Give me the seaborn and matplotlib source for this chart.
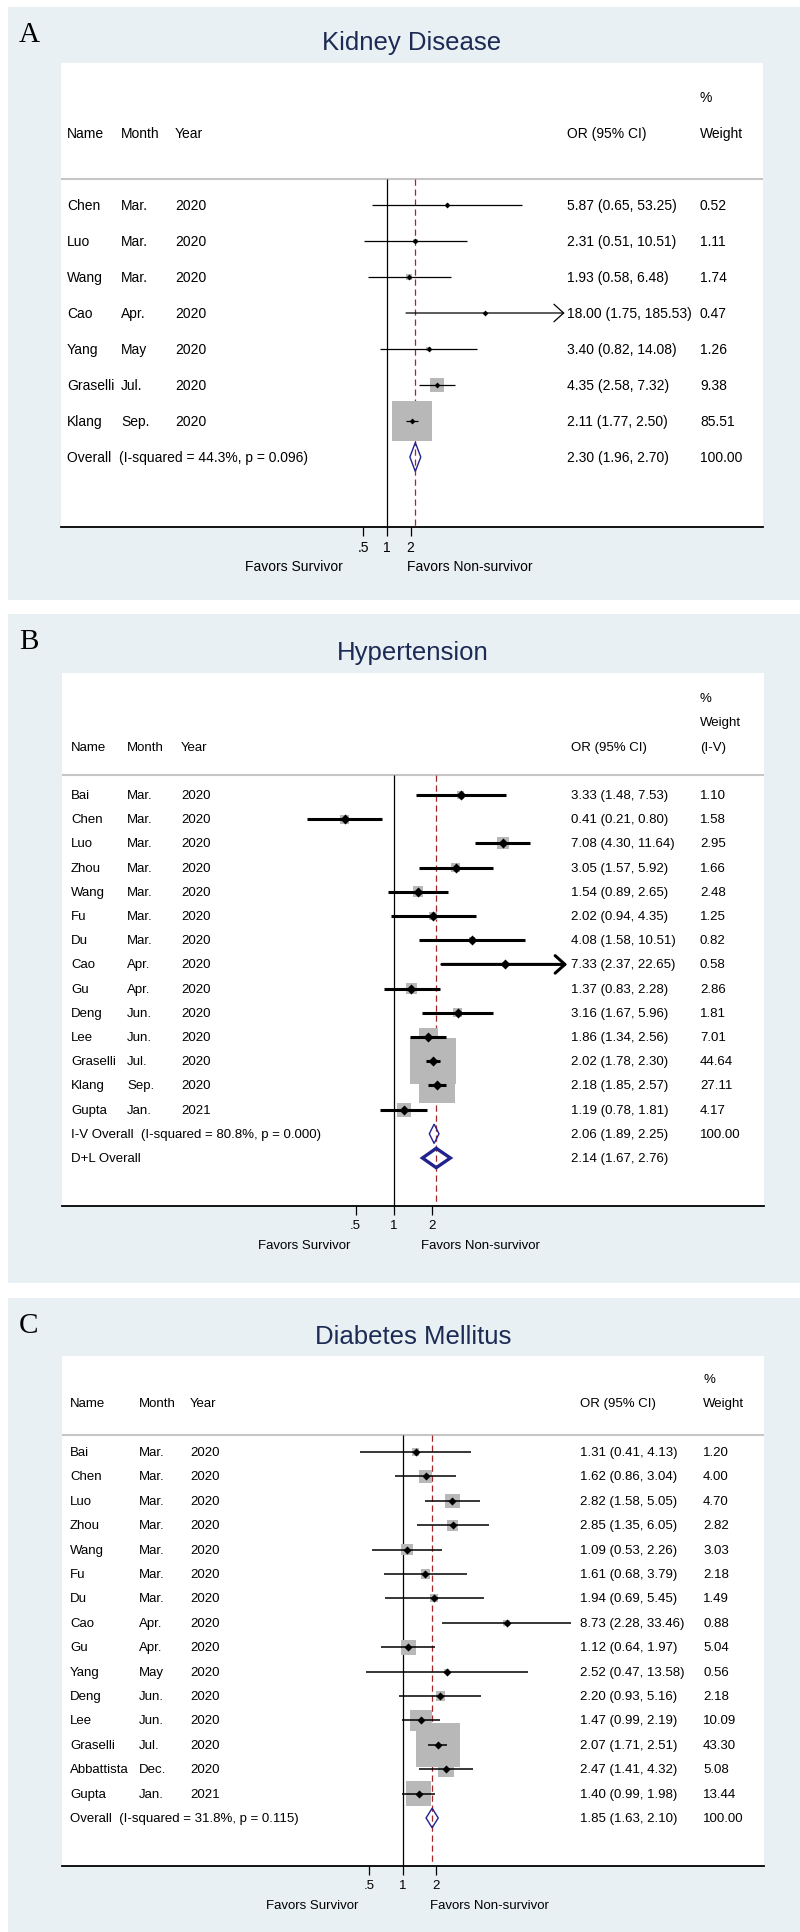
import numpy as np
import pandas as pd
import matplotlib
matplotlib.use("Agg")
import matplotlib.pyplot as plt
import seaborn as sns
from matplotlib.patches import Rectangle

sns.set_theme(style="white")
plt.rcParams["font.family"] = ["Liberation Sans Narrow", "Liberation Sans", "DejaVu Sans"]
plt.rcParams["text.color"] = "black"

# ----------------------------------------------------------
# DATA
# ----------------------------------------------------------
# A - Kidney disease
kd_name = ["Chen", "Luo", "Wang", "Cao", "Yang", "Graselli", "Klang"]
kd_month = ["Mar.", "Mar.", "Mar.", "Apr.", "May", "Jul.", "Sep."]
kd_year = [2020, 2020, 2020, 2020, 2020, 2020, 2020]
kd_or = [5.87, 2.31, 1.93, 18.00, 3.40, 4.35, 2.11]
kd_lo = [0.65, 0.51, 0.58, 1.75, 0.82, 2.58, 1.77]
kd_hi = [53.25, 10.51, 6.48, 185.53, 14.08, 7.32, 2.50]
kd_w = [0.52, 1.11, 1.74, 0.47, 1.26, 9.38, 85.51]
kd_arrow = [0, 0, 0, 1, 0, 0, 0]
kd_ov_name = ["Overall  (I-squared = 44.3%, p = 0.096)"]
kd_ov_or = [2.30]
kd_ov_lo = [1.96]
kd_ov_hi = [2.70]
kd_ov_w = [100.00]

# B - Hypertension
ht_name = ["Bai", "Chen", "Luo", "Zhou", "Wang", "Fu", "Du", "Cao", "Gu",
           "Deng", "Lee", "Graselli", "Klang", "Gupta"]
ht_month = ["Mar.", "Mar.", "Mar.", "Mar.", "Mar.", "Mar.", "Mar.", "Apr.",
            "Apr.", "Jun.", "Jun.", "Jul.", "Sep.", "Jan."]
ht_year = [2020] * 13 + [2021]
ht_or = [3.33, 0.41, 7.08, 3.05, 1.54, 2.02, 4.08, 7.33, 1.37, 3.16, 1.86, 2.02, 2.18, 1.19]
ht_lo = [1.48, 0.21, 4.30, 1.57, 0.89, 0.94, 1.58, 2.37, 0.83, 1.67, 1.34, 1.78, 1.85, 0.78]
ht_hi = [7.53, 0.80, 11.64, 5.92, 2.65, 4.35, 10.51, 22.65, 2.28, 5.96, 2.56, 2.30, 2.57, 1.81]
ht_w = [1.10, 1.58, 2.95, 1.66, 2.48, 1.25, 0.82, 0.58, 2.86, 1.81, 7.01, 44.64, 27.11, 4.17]
ht_arrow = [0, 0, 0, 0, 0, 0, 0, 1, 0, 0, 0, 0, 0, 0]
ht_ov_name = ["I-V Overall  (I-squared = 80.8%, p = 0.000)", "D+L Overall"]
ht_ov_or = [2.06, 2.14]
ht_ov_lo = [1.89, 1.67]
ht_ov_hi = [2.25, 2.76]
ht_ov_w = [100.00, None]

# C - Diabetes mellitus
dm_name = ["Bai", "Chen", "Luo", "Zhou", "Wang", "Fu", "Du", "Cao", "Gu", "Yang",
           "Deng", "Lee", "Graselli", "Abbattista", "Gupta"]
dm_month = ["Mar.", "Mar.", "Mar.", "Mar.", "Mar.", "Mar.", "Mar.", "Apr.", "Apr.",
            "May", "Jun.", "Jun.", "Jul.", "Dec.", "Jan."]
dm_year = [2020] * 14 + [2021]
dm_or = [1.31, 1.62, 2.82, 2.85, 1.09, 1.61, 1.94, 8.73, 1.12, 2.52, 2.20, 1.47, 2.07, 2.47, 1.40]
dm_lo = [0.41, 0.86, 1.58, 1.35, 0.53, 0.68, 0.69, 2.28, 0.64, 0.47, 0.93, 0.99, 1.71, 1.41, 0.99]
dm_hi = [4.13, 3.04, 5.05, 6.05, 2.26, 3.79, 5.45, 33.46, 1.97, 13.58, 5.16, 2.19, 2.51, 4.32, 1.98]
dm_w = [1.20, 4.00, 4.70, 2.82, 3.03, 2.18, 1.49, 0.88, 5.04, 0.56, 2.18, 10.09, 43.30, 5.08, 13.44]
dm_arrow = [0] * 15
dm_ov_name = ["Overall  (I-squared = 31.8%, p = 0.115)"]
dm_ov_or = [1.85]
dm_ov_lo = [1.63]
dm_ov_hi = [2.10]
dm_ov_w = [100.00]

tick_vals = [0.5, 1, 2]
tick_labels = [".5", "1", "2"]
col_heads = ["Name", "Month", "Year", "OR (95% CI)"]

# ----------------------------------------------------------
# STYLE / LAYOUT (pixels of the 800 x 1933 picture)
# ----------------------------------------------------------
W, H = 800, 1933
BG = "#e9f0f3"
TITLE_C = "#1c2b55"
DIAM_C = "#22228c"
RED = "#a5262b"
GREY = "#b8b8b8"

fig = plt.figure(figsize=(W / 100, H / 100), dpi=100)


def fx(px):
    return px / W


def fy(py):
    return 1 - py / H


def draw_panel(letter, title, names, months, years, ors, los, his, wts, arrows,
               ov_name, ov_or, ov_lo, ov_hi, ov_w, wt_head, L):
    n = len(names)
    k, or1, r0, dr = L["k"], L["or1"], L["row0"], L["drow"]
    left, top, right, bottom = L["box"]
    fs = L["fs"]

    def xd(px):
        return (px - or1) / k

    def yd(py):
        return (py - r0) / dr

    # light panel background
    bt, bb = L["bg"]
    fig.add_artist(Rectangle((fx(8), fy(bb)), fx(W - 8), (bb - bt) / H,
                             transform=fig.transFigure, facecolor=BG,
                             edgecolor="none", zorder=-1))
    fig.text(fx(19), fy(L["letter_y"]), letter, family="Liberation Serif",
             fontsize=21, va="baseline", ha="left")
    fig.text(fx((left + right) / 2), fy(L["title_y"]), title, family="Liberation Sans",
             fontsize=18.5, color=TITLE_C, ha="center", va="center")

    ax = fig.add_axes([fx(left), fy(bottom), fx(right - left), (bottom - top) / H])
    ax.set_facecolor("white")

    df = pd.DataFrame({"lnor": np.log(ors), "row": np.arange(n), "weight": wts})
    c = (0.72 * L["sq"]) ** 2
    wmin, wmax = min(wts), max(wts)
    sns.scatterplot(data=df, x="lnor", y="row", size="weight",
                    sizes=(c * wmin, c * wmax), size_norm=(wmin, wmax),
                    marker="s", color=GREY, linewidth=0, legend=False,
                    ax=ax, zorder=2)

    # confidence intervals
    for i in range(n):
        if arrows[i]:
            ax.annotate("", xy=(np.log(his[i]), i), xytext=(np.log(los[i]), i),
                        arrowprops=dict(arrowstyle="->,head_length=0.5,head_width=0.45",
                                        lw=L["lw"], color="black", shrinkA=0, shrinkB=0,
                                        mutation_scale=14), zorder=3)
        else:
            ax.hlines(i, np.log(los[i]), np.log(his[i]), colors="black",
                      lw=L["lw"], zorder=3)

    sns.scatterplot(data=df, x="lnor", y="row", marker="D", s=L["ms"],
                    color="black", linewidth=0, legend=False, ax=ax, zorder=4)

    # pooled diamonds
    for j in range(len(ov_or)):
        r = n + j
        ax.fill([np.log(ov_lo[j]), np.log(ov_or[j]), np.log(ov_hi[j]), np.log(ov_or[j])],
                [r, r - 0.4, r, r + 0.4], facecolor="none", edgecolor=DIAM_C,
                lw=L["dlw"][j], zorder=4)

    # reference lines
    sep = yd(L["sep"])
    ax.axhline(sep, color="#c6c6c6", lw=1.5, zorder=1)
    ax.vlines(0, sep, yd(bottom), colors="black", lw=0.9, zorder=1)
    ax.vlines(np.log(ov_or[-1]), sep, yd(bottom), colors=RED, lw=0.9,
              linestyles=(0, (5, 3)), zorder=1)

    # text columns
    cx = [xd(p) for p in L["cols"]]
    for i in range(n):
        ax.text(cx[0], i, names[i], fontsize=fs, va="center")
        ax.text(cx[1], i, months[i], fontsize=fs, va="center")
        ax.text(cx[2], i, str(years[i]), fontsize=fs, va="center")
        ax.text(cx[3], i, f"{ors[i]:.2f} ({los[i]:.2f}, {his[i]:.2f})", fontsize=fs, va="center")
        ax.text(cx[4], i, f"{wts[i]:.2f}", fontsize=fs, va="center")
    for j in range(len(ov_or)):
        r = n + j
        ax.text(cx[0], r, ov_name[j], fontsize=fs, va="center")
        ax.text(cx[3], r, f"{ov_or[j]:.2f} ({ov_lo[j]:.2f}, {ov_hi[j]:.2f})",
                fontsize=fs, va="center")
        if ov_w[j] is not None:
            ax.text(cx[4], r, f"{ov_w[j]:.2f}", fontsize=fs, va="center")

    # header
    for h, txt in enumerate(col_heads):
        ax.text(cx[h], -2, txt, fontsize=fs, va="center")
    for j, txt in enumerate(wt_head):
        ax.text(cx[4], -2 - (len(wt_head) - 1 - j), txt, fontsize=fs, va="center")

    # axis
    ax.set_xlim(xd(left), xd(right))
    ax.set_ylim(yd(bottom), yd(top))
    ax.set_xticks(np.log(tick_vals))
    ax.set_xticklabels(tick_labels)
    ax.set_yticks([])
    ax.set(xlabel="", ylabel="")
    for s in ["top", "left", "right"]:
        ax.spines[s].set_visible(False)
    ax.spines["bottom"].set_color("black")
    ax.spines["bottom"].set_linewidth(1.3)
    ax.tick_params(axis="x", bottom=True, direction="out", length=6.5, width=0.9,
                   colors="black", pad=3, labelsize=fs)

    ax.annotate("Favors Survivor", xy=(0, 0), xycoords=("data", "axes fraction"),
                xytext=(-44 * 0.72, -39 * 0.72), textcoords="offset points",
                ha="right", va="center", fontsize=fs)
    ax.annotate("Favors Non-survivor", xy=(0, 0), xycoords=("data", "axes fraction"),
                xytext=(L["fav_r"] * 0.72, -39 * 0.72), textcoords="offset points",
                ha="left", va="center", fontsize=fs)


draw_panel("A", "Kidney Disease", kd_name, kd_month, kd_year, kd_or, kd_lo, kd_hi,
           kd_w, kd_arrow, kd_ov_name, kd_ov_or, kd_ov_lo, kd_ov_hi, kd_ov_w,
           ["%", "Weight"],
           dict(bg=(8, 601), box=(61, 64, 763, 528), or1=387, k=34, row0=206, drow=36,
                sep=180, cols=(67, 121, 175, 567, 700), title_y=43, letter_y=42,
                fs=10, lw=0.9, ms=9, sq=4.33, dlw=[1.0], fav_r=20))

draw_panel("B", "Hypertension", ht_name, ht_month, ht_year, ht_or, ht_lo, ht_hi,
           ht_w, ht_arrow, ht_ov_name, ht_ov_or, ht_ov_lo, ht_ov_hi, ht_ov_w,
           ["%", "Weight", "(I-V)"],
           dict(bg=(615, 1284), box=(62, 674, 764, 1207), or1=394, k=55.5, row0=796,
                drow=24.2, sep=776, cols=(71, 127, 181, 571, 700), title_y=653,
                letter_y=649, fs=9.5, lw=2.2, ms=26, sq=6.88, dlw=[1.0, 2.4], fav_r=27))

draw_panel("C", "Diabetes Mellitus", dm_name, dm_month, dm_year, dm_or, dm_lo, dm_hi,
           dm_w, dm_arrow, dm_ov_name, dm_ov_or, dm_ov_lo, dm_ov_hi, dm_ov_w,
           ["%", "Weight"],
           dict(bg=(1299, 1933), box=(62, 1357, 764, 1867), or1=402.6, k=48, row0=1453,
                drow=24.4, sep=1436, cols=(70, 139, 190, 580, 703), title_y=1337,
                letter_y=1333, fs=9.5, lw=1.1, ms=17, sq=6.69, dlw=[1.0], fav_r=27))

fig.savefig("out.png", dpi=100, facecolor="white")
